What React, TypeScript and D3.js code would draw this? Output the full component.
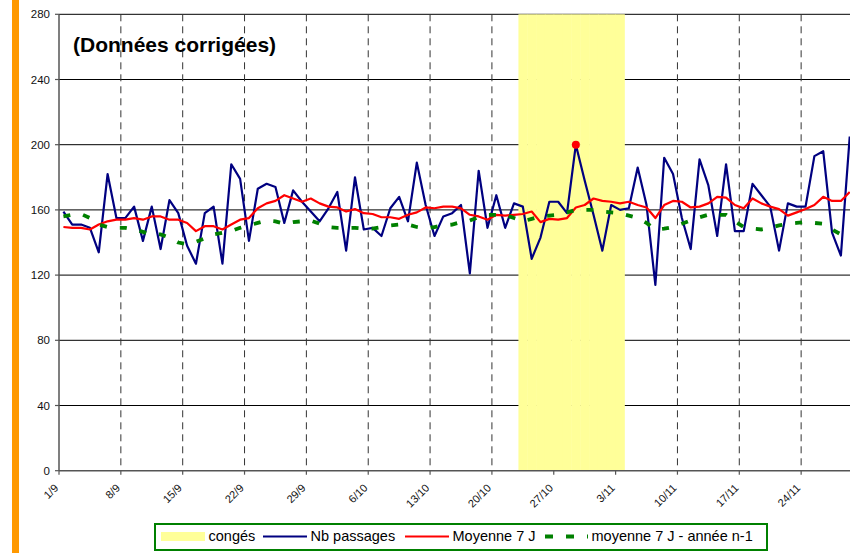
import React from 'react';
import * as d3 from 'd3';

// passages quotidiens à partir du 1/9
const startDate = new Date(2008, 8, 1);

const nbPassages = [
  159, 151, 151, 149, 134, 182, 155, 155, 162, 141, 162, 136, 166, 158, 138, 127, 158, 162, 127, 188,
  179, 141, 173, 176, 174, 152, 172, 165, 159, 153, 161, 171, 135, 180, 148, 149, 144, 161, 168, 153,
  189, 163, 144, 156, 158, 163, 121, 184, 149, 169, 149, 164, 162, 130, 143, 165, 165, 158, 200, 178,
  157, 135, 163, 160, 161, 186, 163, 114, 192, 182, 155, 136, 191, 175, 144, 188, 147, 147, 176, 169,
  162, 135, 164, 162, 162, 193, 196, 146, 132, 205,
];

const moyenne7j = [
  149.5, 149, 149, 148, 151, 153, 154, 154, 155, 154, 156, 156, 154, 154, 152, 147, 150, 150, 148, 151,
  154, 155, 161, 164, 165.5, 169, 167, 165, 167, 164, 162, 161.5, 159, 160.5, 158, 157.5, 155.5, 155.5, 154.5, 157,
  158.5, 161.5, 161, 162, 162, 161, 157, 156, 154, 157, 156.5, 157, 157.5, 159, 152.5, 154.5, 154, 155, 161.5, 163,
  167, 165.5, 165, 164, 165, 163, 161.5, 155, 163, 165.5, 165, 161.5, 162, 164, 168, 167.5, 163, 161, 167, 164,
  162, 160.5, 156.5, 158.5, 160.5, 163, 168, 165.5, 165.5, 171,
];

const moyenneN1 = [
  156, 157, 157.5, 155, 151, 149.5, 149, 149, 148, 146.5, 145, 145, 143, 140, 139, 140.5, 142.5, 145, 146, 147,
  149, 150.5, 152, 153.5, 153, 151.5, 152.5, 153, 153.5, 151.5, 149.5, 149, 149, 149, 148.5, 148.5, 149.5, 150.5, 151, 151,
  149.5, 148.5, 149.5, 150.5, 151, 152.5, 153.5, 155.5, 157, 157, 157, 155, 153, 154.5, 156, 156.5, 157, 158.5, 160, 160,
  160, 159, 158.5, 158, 156.5, 155, 152, 148, 148.5, 149.5, 151.5, 153.5, 155.5, 157, 157, 157, 153, 149.5, 148.5, 148,
  149, 150.5, 151.5, 152, 152.5, 152, 151.5, 148, 145, 144,
];

const conges = ['23/10', '24/10', '25/10', '26/10', '27/10', '28/10', '29/10', '30/10', '31/10', '1/11', '2/11', '3/11'];
const pointMarque = '29/10';

const xTickLabels = ['1/9', '8/9', '15/9', '22/9', '29/9', '6/10', '13/10', '20/10', '27/10', '3/11', '10/11', '17/11', '24/11'];
const yTicks = [0, 40, 80, 120, 160, 200, 240, 280];

const legendItems = [
  { label: 'congés', kind: 'rect', color: '#FFFF99', x: 161, w: 44 },
  { label: 'Nb passages', kind: 'line', color: '#000080', x: 263, w: 44 },
  { label: 'Moyenne 7 J', kind: 'line', color: '#FF0000', x: 405, w: 44 },
  { label: 'moyenne 7 J - année n-1', kind: 'dash', color: '#008000', x: 545, w: 43 },
];

const W = 850;
const H = 553;
const left = 59;
const dayW = 8.835;
const font = '"Liberation Sans", Arial, sans-serif';

const fmt = d3.timeFormat('%-d/%-m');
const days = d3.range(nbPassages.length).map(i => fmt(d3.timeDay.offset(startDate, i)));

export default function App() {
  const x = d3.scaleBand<string>().domain(days).range([left, left + days.length * dayW]).padding(0);
  const y = d3.scaleLinear().domain([0, 280]).range([470.7, 14.3]);
  const bw = x.bandwidth();
  const cx = (d: string) => (x(d) as number) + bw / 2;

  const line = (vals: number[]) =>
    d3.line<number>().x((_, i) => cx(days[i])).y(v => y(v))(vals) || '';

  const axisY = y(0);
  const top = y(280);
  const mi = days.indexOf(pointMarque);

  return (
    <svg width={W} height={H} style={{ position: 'absolute', left: 0, top: 0, background: '#fff' }} fontFamily={font}>
      <rect x={12} y={0} width={7} height={H} fill="#FF9900" />

      {/* quadrillage horizontal */}
      {yTicks.filter(t => t > 0).map(t => (
        <line key={t} x1={left} x2={W} y1={y(t)} y2={y(t)} stroke="#000" strokeWidth={1} />
      ))}
      {/* quadrillage vertical */}
      {xTickLabels.slice(1).map(l => (
        <line key={l} x1={x(l)} x2={x(l)} y1={top} y2={axisY} stroke="#333" strokeWidth={1} strokeDasharray="7,5" />
      ))}

      {/* congés */}
      {conges.map(d => (
        <rect key={d} x={x(d)} y={top} width={bw + 0.4} height={axisY - top} fill="#FFFF99" />
      ))}

      {/* axes */}
      <line x1={left} x2={left} y1={top} y2={axisY} stroke="#555" strokeWidth={1.5} />
      <line x1={left} x2={W} y1={axisY} y2={axisY} stroke="#555" strokeWidth={1.5} />
      {yTicks.map(t => (
        <g key={t}>
          <line x1={left - 4} x2={left} y1={y(t)} y2={y(t)} stroke="#555" strokeWidth={1.2} />
          <text x={50} y={y(t)} dy="0.35em" textAnchor="end" fontSize={11.5} fill="#111">{t}</text>
        </g>
      ))}
      {xTickLabels.map(l => (
        <g key={l}>
          <line x1={x(l)} x2={x(l)} y1={axisY} y2={axisY + 4} stroke="#555" strokeWidth={1.2} />
          <text transform={`translate(${(x(l) as number)},${axisY + 18}) rotate(-45)`} textAnchor="end" fontSize={11} fill="#111">{l}</text>
        </g>
      ))}

      {/* séries */}
      <path d={line(nbPassages)} fill="none" stroke="#000080" strokeWidth={2.2} strokeLinejoin="round" />
      <path d={line(moyenne7j)} fill="none" stroke="#FF0000" strokeWidth={2.2} strokeLinejoin="round" />
      <path d={line(moyenneN1)} fill="none" stroke="#008000" strokeWidth={3.8} strokeDasharray="7,13" />
      <circle cx={cx(pointMarque)} cy={y(nbPassages[mi])} r={4} fill="#FF0000" />

      <text x={73} y={52} fontSize={21} fontWeight="bold" fill="#000">(Données corrigées)</text>

      {/* légende */}
      <rect x={155} y={524} width={612} height={26} fill="#fff" stroke="#008000" strokeWidth={2} />
      {legendItems.map(it => (
        <g key={it.label}>
          {it.kind === 'rect' && <rect x={it.x} y={532} width={it.w} height={9} fill={it.color} />}
          {it.kind === 'line' && <line x1={it.x} x2={it.x + it.w} y1={536.5} y2={536.5} stroke={it.color} strokeWidth={2.2} />}
          {it.kind === 'dash' && <line x1={it.x} x2={it.x + it.w} y1={536.5} y2={536.5} stroke={it.color} strokeWidth={3.8} strokeDasharray="8,13" />}
          <text x={it.x + it.w + 3.5} y={541} fontSize={14.5} fill="#000">{it.label}</text>
        </g>
      ))}
    </svg>
  );
}
